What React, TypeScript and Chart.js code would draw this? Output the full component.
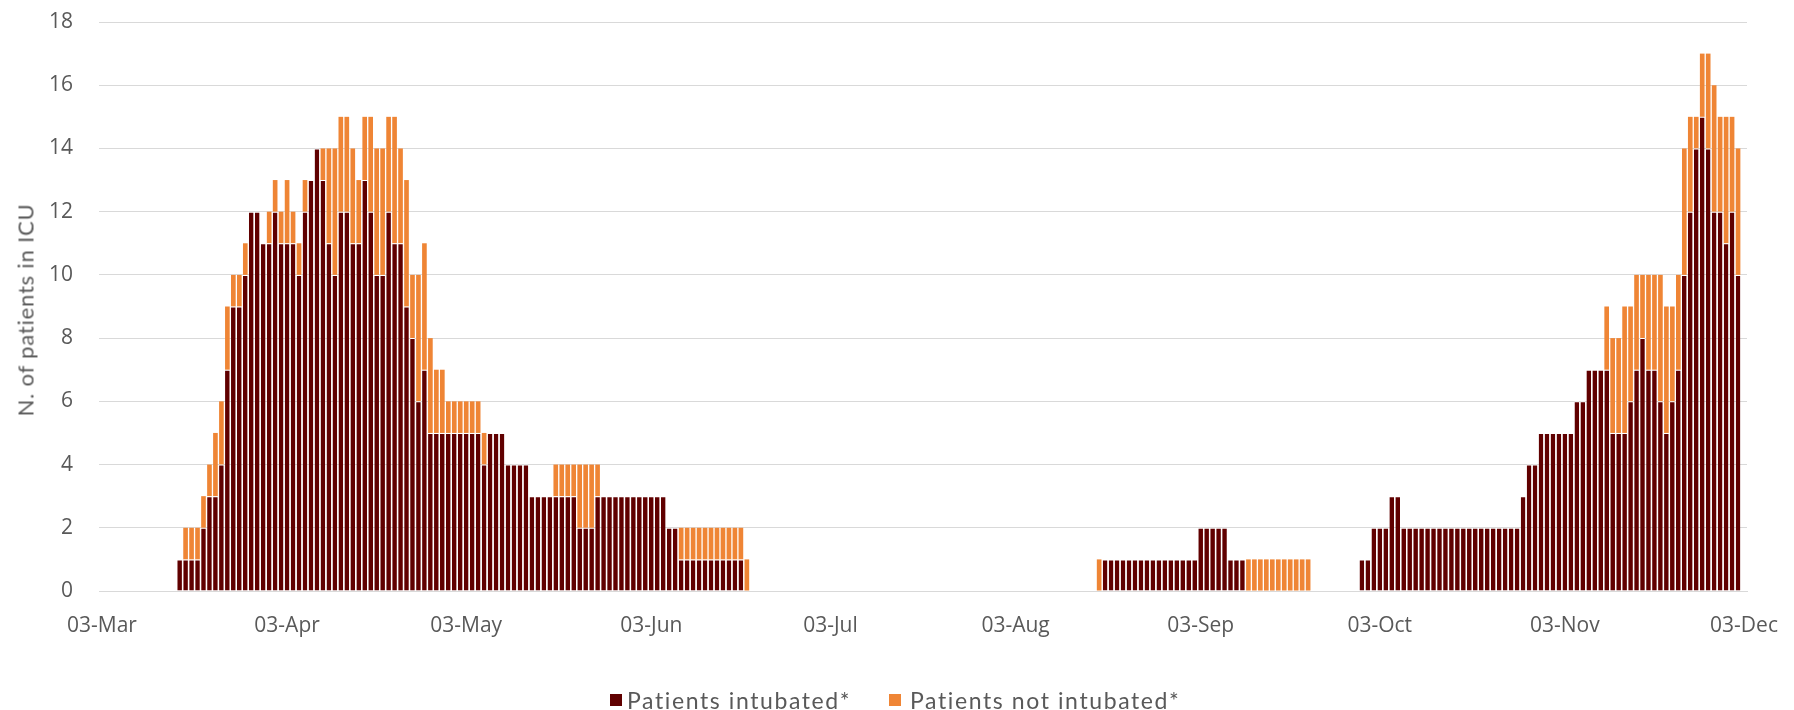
import React, { useEffect, useRef } from 'react';
import { Chart, registerables } from 'chart.js';

Chart.register(...registerables);

// ---------- axis / categories ----------
const monthNames = ['Jan', 'Feb', 'Mar', 'Apr', 'May', 'Jun', 'Jul', 'Aug', 'Sep', 'Oct', 'Nov', 'Dec'];
const axisStart = '2020-03-03';
const axisEnd = '2020-12-03';
const yTickValues = [0, 2, 4, 6, 8, 10, 12, 14, 16, 18];

const seriesNames = ['Patients intubated*', 'Patients not intubated*'];
const seriesColors = ['#600000', '#EF8535'];

// ---------- data (daily counts) ----------
// first wave, from 16 March
const wave1Start = '2020-03-16';
const wave1Intubated = [
  1, 1, 1, 1, 2, 3, 3, 4, 7, 9, 9, 10, 12, 12, 11, 11, 12, 11, 11, 11, 10, 12, 13, 14, 13, 11, 10, 12, 12, 11, 11, 13,
  12, 10, 10, 12, 11, 11, 9, 8, 6, 7, 5, 5, 5, 5, 5, 5, 5, 5, 5, 4, 5, 5, 5, 4, 4, 4, 4, 3, 3, 3, 3, 3,
  3, 3, 3, 2, 2, 2, 3, 3, 3, 3, 3, 3, 3, 3, 3, 3, 3, 3, 2, 2, 1, 1, 1, 1, 1, 1, 1, 1, 1, 1, 1, 0,
];
const wave1NotIntubated = [
  0, 1, 1, 1, 1, 1, 2, 2, 2, 1, 1, 1, 0, 0, 0, 1, 1, 1, 2, 1, 1, 1, 0, 0, 1, 3, 4, 3, 3, 3, 2, 2,
  3, 4, 4, 3, 4, 3, 4, 2, 4, 4, 3, 2, 2, 1, 1, 1, 1, 1, 1, 1, 0, 0, 0, 0, 0, 0, 0, 0, 0, 0, 0, 1,
  1, 1, 1, 2, 2, 2, 1, 0, 0, 0, 0, 0, 0, 0, 0, 0, 0, 0, 0, 0, 1, 1, 1, 1, 1, 1, 1, 1, 1, 1, 1, 1,
];

// summer, from 17 August
const wave2Start = '2020-08-17';
const wave2Intubated = [
  0, 1, 1, 1, 1, 1, 1, 1, 1, 1, 1, 1, 1, 1, 1, 1, 1, 2, 2, 2, 2, 2, 1, 1, 1, 0, 0, 0, 0, 0, 0, 0, 0, 0, 0, 0,
];
const wave2NotIntubated = [
  1, 0, 0, 0, 0, 0, 0, 0, 0, 0, 0, 0, 0, 0, 0, 0, 0, 0, 0, 0, 0, 0, 0, 0, 0, 1, 1, 1, 1, 1, 1, 1, 1, 1, 1, 1,
];

// second wave, from 30 September
const wave3Start = '2020-09-30';
const wave3Intubated = [
  1, 1, 2, 2, 2, 3, 3, 2, 2, 2, 2, 2, 2, 2, 2, 2, 2, 2, 2, 2, 2, 2, 2, 2, 2, 2, 2, 3, 4, 4, 5, 5,
  5, 5, 5, 5, 6, 6, 7, 7, 7, 7, 5, 5, 5, 6, 7, 8, 7, 7, 6, 5, 6, 7, 10, 12, 14, 15, 14, 12, 12, 11, 12, 10,
];
const wave3NotIntubated = [
  0, 0, 0, 0, 0, 0, 0, 0, 0, 0, 0, 0, 0, 0, 0, 0, 0, 0, 0, 0, 0, 0, 0, 0, 0, 0, 0, 0, 0, 0, 0, 0,
  0, 0, 0, 0, 0, 0, 0, 0, 0, 2, 3, 3, 4, 3, 3, 2, 3, 3, 4, 4, 3, 3, 4, 3, 1, 2, 3, 4, 3, 4, 3, 4,
];

// ---------- helpers ----------
const DAY = 86400000;
function toUTC(s: string): number {
  const [y, m, d] = s.split('-').map(Number);
  return Date.UTC(y, m - 1, d);
}

function buildLabels(): string[] {
  const out: string[] = [];
  for (let t = toUTC(axisStart); t <= toUTC(axisEnd); t += DAY) {
    const d = new Date(t);
    const dd = String(d.getUTCDate()).padStart(2, '0');
    out.push(dd + '-' + monthNames[d.getUTCMonth()]);
  }
  return out;
}

function buildSeries(n: number, parts: [string, number[]][]): (number | null)[] {
  const arr: (number | null)[] = new Array(n).fill(null);
  for (const [start, vals] of parts) {
    const off = Math.round((toUTC(start) - toUTC(axisStart)) / DAY);
    vals.forEach((v, i) => {
      arr[off + i] = v > 0 ? v : null;
    });
  }
  return arr;
}

const W = 1794;
const H = 710;
const textColor = '#595959';

export default function App() {
  const ref = useRef<HTMLCanvasElement | null>(null);

  useEffect(() => {
    if (!ref.current) return;
    const labels = buildLabels();
    const intubated = buildSeries(labels.length, [
      [wave1Start, wave1Intubated],
      [wave2Start, wave2Intubated],
      [wave3Start, wave3Intubated],
    ]);
    const notIntubated = buildSeries(labels.length, [
      [wave1Start, wave1NotIntubated],
      [wave2Start, wave2NotIntubated],
      [wave3Start, wave3NotIntubated],
    ]);

    const chart = new Chart(ref.current, {
      type: 'bar',
      data: {
        labels,
        datasets: [
          {
            label: seriesNames[0],
            data: intubated,
            backgroundColor: seriesColors[0],
            borderColor: '#ffffff',
            borderWidth: { top: 1, left: 0, right: 0, bottom: 0 },
            borderSkipped: false,
            barPercentage: 0.78,
            categoryPercentage: 1,
          },
          {
            label: seriesNames[1],
            data: notIntubated,
            backgroundColor: seriesColors[1],
            borderWidth: 0,
            barPercentage: 0.78,
            categoryPercentage: 1,
          },
        ],
      },
      options: {
        responsive: false,
        animation: false,
        layout: { padding: { left: 0, right: 47, top: 22, bottom: 0 } },
        plugins: {
          legend: { display: false },
          tooltip: { enabled: false },
        },
        scales: {
          x: {
            stacked: true,
            grid: { display: false, drawTicks: false },
            border: { display: true, color: '#D9D9D9', width: 1 },
            ticks: {
              autoSkip: false,
              maxRotation: 0,
              minRotation: 0,
              padding: 22,
              color: textColor,
              font: { family: '"Open Sans", sans-serif', size: 21 },
              callback: (_v: any, i: number) => (labels[i].startsWith('03-') ? labels[i] : ''),
            },
            afterFit: (s: any) => {
              s.height = H - 591;
              s.paddingLeft = 0;
              s.paddingRight = 0;
            },
          },
          y: {
            stacked: true,
            min: yTickValues[0],
            max: yTickValues[yTickValues.length - 1],
            ticks: {
              stepSize: yTickValues[1] - yTickValues[0],
              padding: 26,
              color: textColor,
              font: { family: '"Open Sans", sans-serif', size: 21 },
            },
            grid: { color: '#D9D9D9', lineWidth: 1, drawTicks: false },
            border: { display: false },
            afterFit: (s: any) => {
              s.width = 99;
              s.paddingTop = 0;
              s.paddingBottom = 0;
            },
          },
        },
      },
    });
    return () => chart.destroy();
  }, []);

  const legendFont: React.CSSProperties = {
    position: 'absolute',
    fontFamily: 'Lato, sans-serif',
    fontSize: 23,
    letterSpacing: '1.6px',
    color: textColor,
    lineHeight: '26px',
    top: 687,
    whiteSpace: 'nowrap',
  };

  return (
    <div style={{ position: 'fixed', left: 0, top: 0, width: W, height: H, background: '#fff', overflow: 'hidden' }}>
      <canvas ref={ref} width={W} height={H} style={{ display: 'block', width: W, height: H }} />
      <div
        style={{
          position: 'absolute',
          left: 25,
          top: 310,
          transform: 'translate(-50%, -50%) rotate(-90deg)',
          fontFamily: 'Lato, sans-serif',
          fontSize: 22,
          letterSpacing: '0.8px',
          color: textColor,
          whiteSpace: 'nowrap',
        }}
      >
        N. of patients in ICU
      </div>
      <div style={{ position: 'absolute', left: 610, top: 694, width: 12, height: 12, background: seriesColors[0] }} />
      <span style={{ ...legendFont, left: 627 }}>{seriesNames[0]}</span>
      <div style={{ position: 'absolute', left: 889, top: 694, width: 12, height: 12, background: seriesColors[1] }} />
      <span style={{ ...legendFont, left: 910 }}>{seriesNames[1]}</span>
    </div>
  );
}
